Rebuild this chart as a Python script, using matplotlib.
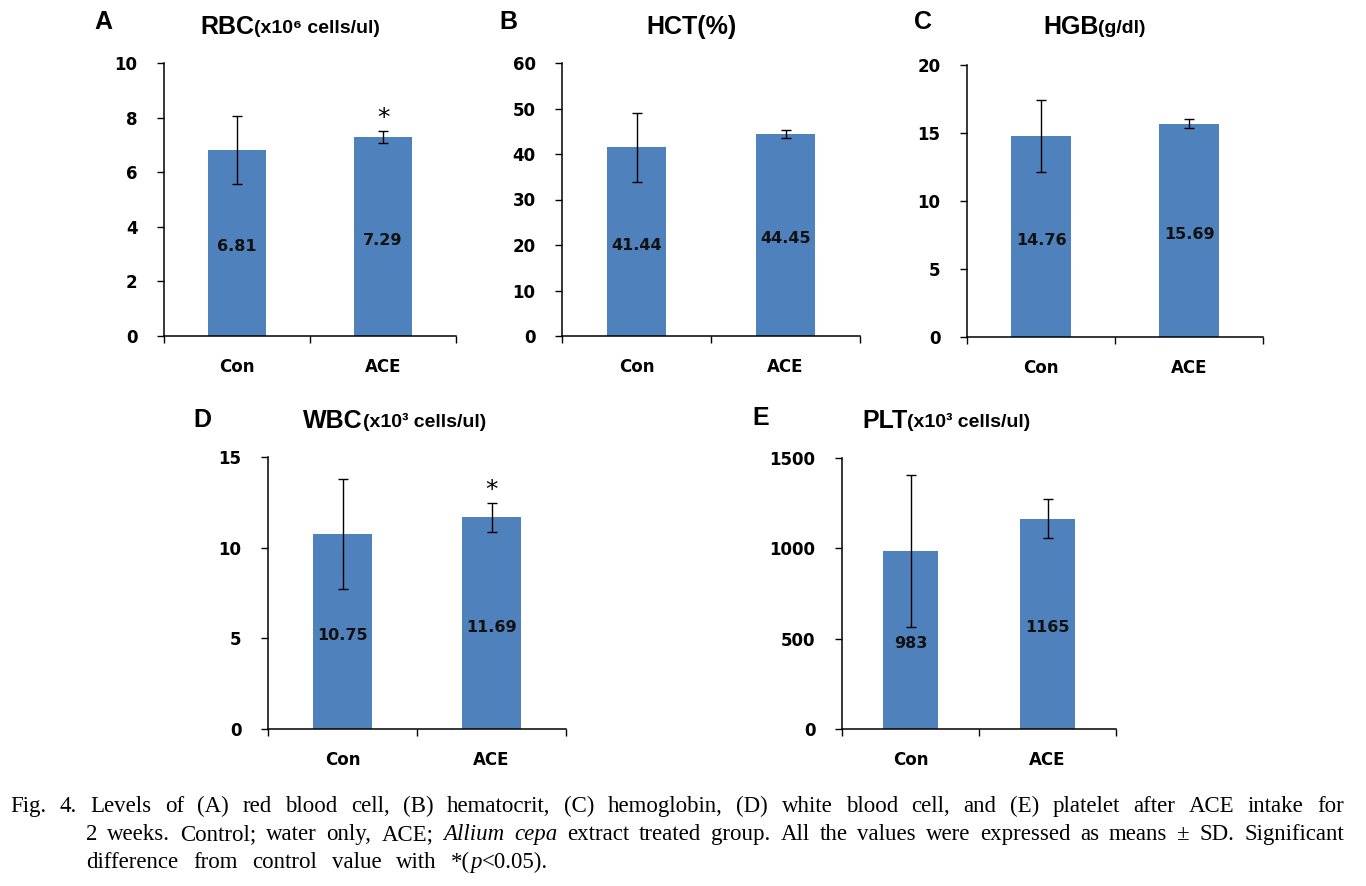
import matplotlib
matplotlib.use('Agg')
import matplotlib.pyplot as plt

W, H = 1366, 886

# data (mean, SD)
groups = ['Con', 'ACE']
rbc_mean = [6.81, 7.29]
rbc_sd = [1.24, 0.23]
hct_mean = [41.44, 44.45]
hct_sd = [7.5, 0.9]
hgb_mean = [14.76, 15.69]
hgb_sd = [2.66, 0.35]
wbc_mean = [10.75, 11.69]
wbc_sd = [3.05, 0.8]
plt_mean = [983, 1165]
plt_sd = [421, 110]
rbc_sig = [False, True]
wbc_sig = [False, True]
no_sig = [False, False]

# |...| marks italic pieces
caption_lines = [
    "Fig. 4. Levels of (A) red blood cell, (B) hematocrit, (C) hemoglobin, (D) white blood cell, and (E) platelet after ACE intake for",
    "2 weeks. Control; water only, ACE; |Allium| |cepa| extract treated group. All the values were expressed as means \u00b1 SD. Significant",
    "difference from control value with *(|p|<0.05).",
]

BAR = '#4f81bd'
TICKFONT = 'DejaVu Sans'
TITLEFONT = ['Liberation Sans', 'DejaVu Sans']
CAPFONT = 'Liberation Serif'


def px_axes(left, right, top, bottom):
    return fig.add_axes([left / W, 1 - bottom / H, (right - left) / W, (bottom - top) / H])


def panel(box, means, sds, sig, ymax, ystep, fmt, letter, letter_xy, title, sub, title_xy):
    ax = px_axes(*box)
    x = [0.5, 1.5]
    ax.bar(x, means, width=0.4, color=BAR, zorder=2)
    ax.errorbar(x, means, yerr=sds, fmt='none', ecolor='black', elinewidth=1,
                capsize=3.5, capthick=1, zorder=3)
    for xi, m, s, star in zip(x, means, sds, sig):
        ax.text(xi, m * 0.48, fmt.format(m), ha='center', va='center',
                fontsize=11.5, fontweight='bold', family=TICKFONT, color='#111111', zorder=4)
        if star:
            ax.annotate('*', (xi, m + s), xytext=(0, 13), textcoords='offset pixels',
                        ha='center', va='center', fontsize=18, family='DejaVu Sans')
    ax.set_xlim(0, 2)
    ax.set_ylim(0, ymax)
    ax.set_yticks([i * ystep for i in range(int(round(ymax / ystep)) + 1)])
    ax.set_xticks([0, 1, 2])
    ax.set_xticklabels([])
    ax.set_xticks(x, minor=True)
    ax.set_xticklabels(groups, minor=True)
    ax.tick_params(axis='x', which='major', direction='out', length=5, width=1)
    ax.tick_params(axis='x', which='minor', length=0, pad=16)
    ax.tick_params(axis='y', direction='out', length=5, width=1, pad=14)
    for lab in ax.get_xticklabels(minor=True) + ax.get_yticklabels():
        lab.set_fontsize(12)
        lab.set_fontweight('bold')
        lab.set_family(TICKFONT)
    for s in ['top', 'right']:
        ax.spines[s].set_visible(False)
    for s in ['left', 'bottom']:
        ax.spines[s].set_linewidth(1.1)

    fig.text(letter_xy[0] / W, 1 - letter_xy[1] / H, letter, fontsize=18,
             fontweight='bold', family=TITLEFONT, ha='left', va='center')
    t = fig.text(title_xy[0] / W, 1 - title_xy[1] / H, title, fontsize=18,
                 fontweight='bold', family=TITLEFONT, ha='left', va='center')
    if sub:
        plt.annotate(sub, xy=(1, 0.1), xycoords=t, va='bottom', ha='left',
                     fontsize=14, fontweight='bold', family=TITLEFONT)
    return ax


def place_line(renderer, line, x0, y, x1, fs=16.5):
    # lay words out one by one so the line is justified between x0 and x1
    words = []
    for w in line.split(' '):
        parts = w.split('|')
        pieces = []
        for i, p in enumerate(parts):
            if not p:
                continue
            t = fig.text(0, 0, p, fontsize=fs, family=CAPFONT,
                         style='italic' if i % 2 else 'normal', ha='left', va='baseline')
            pieces.append((t, t.get_window_extent(renderer).width))
        words.append(pieces)
    widths = [sum(pw for _, pw in ps) for ps in words]
    gap = (x1 - x0 - sum(widths)) / (len(words) - 1)
    x = x0
    for ps, ww in zip(words, widths):
        for t, pw in ps:
            t.set_position((x / W, 1 - y / H))
            x += pw
        x += gap


fig = plt.figure(figsize=(W / 100, H / 100), dpi=100)

panel((164, 456, 63, 336), rbc_mean, rbc_sd, rbc_sig, 10, 2, '{:.2f}',
      'A', (94, 22), 'RBC', '(x10\u2076 cells/ul)', (200, 27))
panel((562, 860, 63, 336), hct_mean, hct_sd, no_sig, 60, 10, '{:.2f}',
      'B', (499, 22), 'HCT(%)', None, (646, 27))
panel((967, 1263, 65, 337), hgb_mean, hgb_sd, no_sig, 20, 5, '{:.2f}',
      'C', (914, 22), 'HGB', '(g/dl)', (1043, 27))
panel((268, 566, 457, 729), wbc_mean, wbc_sd, wbc_sig, 15, 5, '{:.2f}',
      'D', (193, 420), 'WBC', '(x10\u00b3 cells/ul)', (303, 421))
panel((842, 1116, 458, 729), plt_mean, plt_sd, no_sig, 1500, 500, '{:.0f}',
      'E', (752, 418), 'PLT', '(x10\u00b3 cells/ul)', (862, 421))

renderer = fig.canvas.get_renderer()
place_line(renderer, caption_lines[0], 10, 812, 1344)
place_line(renderer, caption_lines[1], 86, 840, 1344)
place_line(renderer, caption_lines[2], 86, 868, 548)

fig.savefig('out.png', dpi=100)
